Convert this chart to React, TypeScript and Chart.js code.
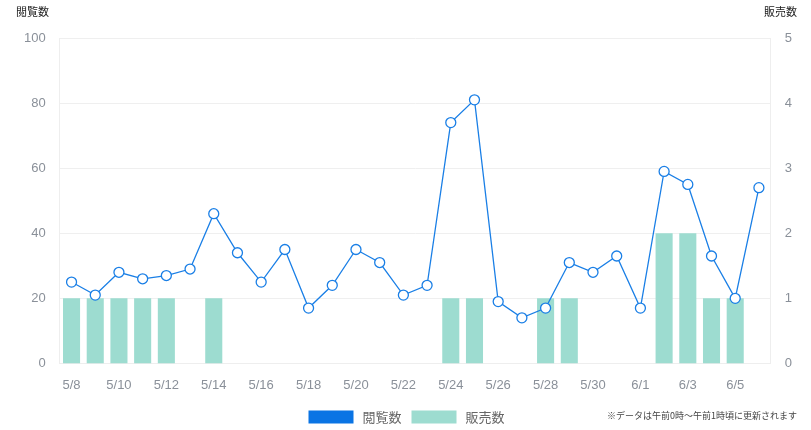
import React, { useEffect, useRef } from "react";
import { Chart, registerables } from "chart.js";
Chart.register(...registerables);

const labels = ["5/8","5/9","5/10","5/11","5/12","5/13","5/14","5/15","5/16","5/17","5/18","5/19","5/20","5/21","5/22","5/23","5/24","5/25","5/26","5/27","5/28","5/29","5/30","5/31","6/1","6/2","6/3","6/4","6/5","6/6"];
const views = [25,21,28,26,27,29,46,34,25,35,17,24,35,31,21,24,74,81,19,14,17,31,28,33,17,59,55,33,20,54];
const sales = [1,1,1,1,1,0,1,0,0,0,0,0,0,0,0,0,1,1,0,0,1,1,0,0,0,2,2,1,1,0];
const viewsLabel = "閲覧数";
const salesLabel = "販売数";
const note = "※データは午前0時〜午前1時頃に更新されます";

const FONT = "Arial, 'Liberation Sans', 'Noto Sans CJK JP', sans-serif";
const LINE_COLOR = "#1a7fe6";
const LEGEND_LINE = "#0a74e4";
const BAR_COLOR = "#9ddcd0";

export default function App() {
  const ref = useRef<HTMLCanvasElement>(null);
  useEffect(() => {
    document.body.style.margin = "0";
    const textPlugin = {
      id: "extraText",
      afterDraw(chart: any) {
        const ctx = chart.ctx;
        ctx.save();
        ctx.fillStyle = "#222";
        ctx.font = "11px 'Noto Sans CJK JP', sans-serif";
        ctx.textBaseline = "middle";
        ctx.textAlign = "left";
        ctx.fillText(viewsLabel, 16, 12);
        ctx.textAlign = "right";
        ctx.fillText(salesLabel, 797, 12);
        ctx.fillStyle = "#444";
        ctx.font = "9px 'Noto Sans CJK JP', sans-serif";
        ctx.fillText(note, 797, 416);
        // custom legend
        const items = [
          { label: viewsLabel, color: LEGEND_LINE },
          { label: salesLabel, color: BAR_COLOR },
        ];
        ctx.font = "13px 'Noto Sans CJK JP', sans-serif";
        const boxW = 45, boxH = 13, gapText = 9, gapItem = 10;
        const widths = items.map((it) => boxW + gapText + ctx.measureText(it.label).width);
        const total = widths.reduce((a, b) => a + b, 0) + gapItem * (items.length - 1);
        let x = chart.width / 2 - total / 2 + 1;
        const cy = 417;
        ctx.textAlign = "left";
        items.forEach((it, i) => {
          ctx.fillStyle = it.color;
          ctx.fillRect(x, cy - boxH / 2, boxW, boxH);
          ctx.fillStyle = "#666";
          ctx.fillText(it.label, x + boxW + gapText, cy);
          x += widths[i] + gapItem;
        });
        ctx.restore();
      },
    };
    const chart = new Chart(ref.current!, {
      type: "bar",
      data: {
        labels,
        datasets: [
          {
            type: "line",
            label: viewsLabel,
            data: views,
            yAxisID: "y",
            borderColor: LINE_COLOR,
            backgroundColor: LEGEND_LINE,
            borderWidth: 1.3,
            pointRadius: 5,
            pointHoverRadius: 5,
            pointBackgroundColor: "#ffffff",
            pointBorderColor: LINE_COLOR,
            pointBorderWidth: 1.3,
            tension: 0,
            order: 0,
          } as any,
          {
            type: "bar",
            label: salesLabel,
            data: sales,
            yAxisID: "y1",
            backgroundColor: BAR_COLOR,
            borderWidth: 0,
            order: 1,
          },
        ],
      },
      options: {
        responsive: false,
        animation: false,
        layout: { padding: { top: 38, left: 10, right: 5, bottom: 31 } },
        plugins: {
          legend: { display: false },
          tooltip: { enabled: false },
        },
        scales: {
          x: {
            grid: { display: false },
            border: { display: true, color: "#eeeeee" },
            ticks: {
              color: "#8a9099",
              font: { size: 13, family: FONT },
              maxRotation: 0,
              autoSkip: false,
              callback: (v: any, i: number) => (i % 2 === 0 ? labels[i] : ""),
              padding: 6,
            },
          },
          y: {
            position: "left",
            min: 0,
            max: 100,
            ticks: { stepSize: 20, color: "#8a9099", font: { size: 13, family: FONT }, padding: 14 },
            grid: { color: "#efefef", drawTicks: false },
            border: { display: true, color: "#eeeeee" },
          },
          y1: {
            position: "right",
            min: 0,
            max: 5,
            ticks: { stepSize: 1, color: "#8a9099", font: { size: 13, family: FONT }, padding: 14 },
            grid: { display: false, drawTicks: false },
            border: { display: true, color: "#eeeeee" },
          },
        },
      },
      plugins: [textPlugin],
    });
    return () => chart.destroy();
  }, []);
  return <canvas ref={ref} width={811} height={430} style={{ display: "block" }} />;
}
